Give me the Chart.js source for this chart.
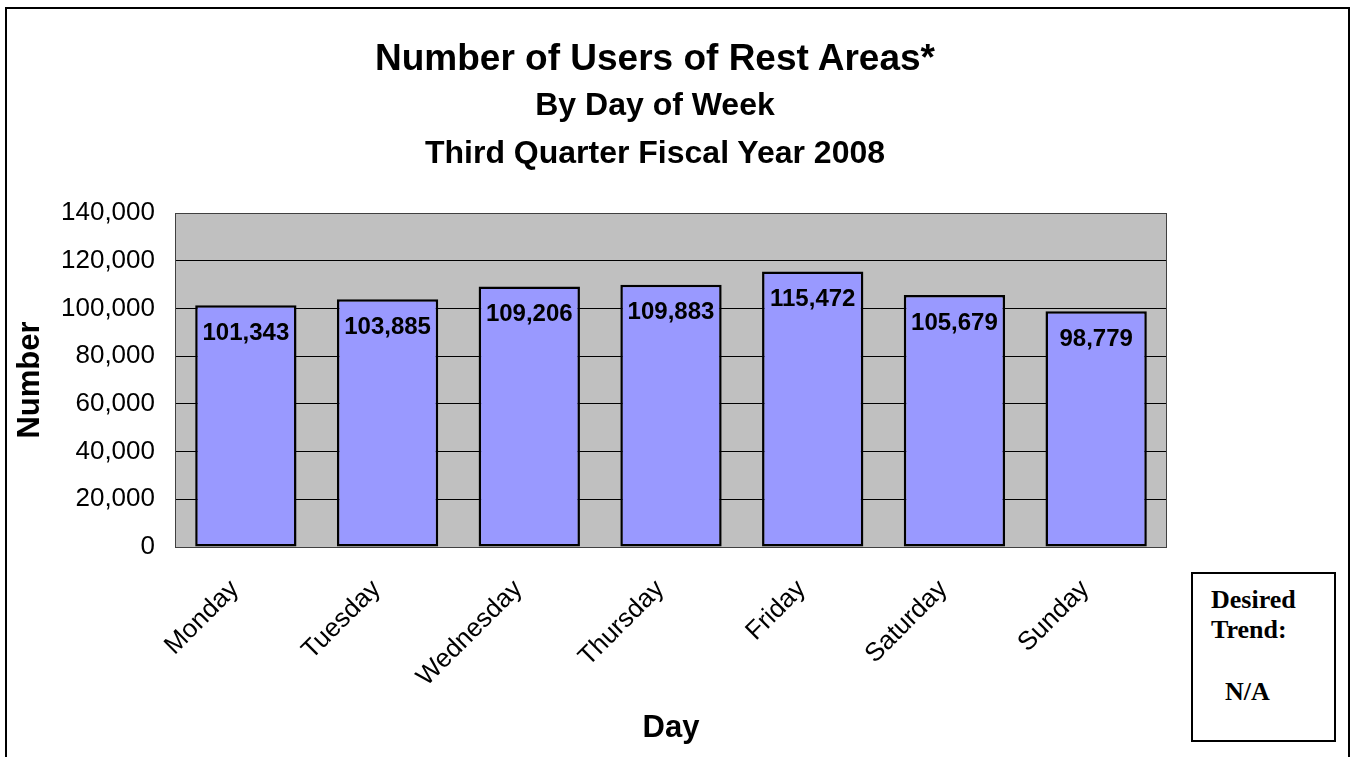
<!DOCTYPE html>
<html>
<head>
<meta charset="utf-8">
<script src="https://cdn.jsdelivr.net/npm/chart.js@4"></script>
<style>
  html, body { margin: 0; padding: 0; width: 1354px; height: 757px; overflow: hidden; background: #fff; }
  #frame { position: absolute; left: 5px; top: 7px; width: 1345px; height: 800px; border: 2px solid #000; box-sizing: border-box; }
  #wrap { position: absolute; left: 0; top: 0; width: 1354px; height: 757px; }
  .t { position: absolute; font-family: "Liberation Sans", Arial, sans-serif; font-weight: bold; color: #000; white-space: nowrap; text-align: center; width: 900px; left: 205px; }
  #trend { position: absolute; left: 1191px; top: 572px; width: 145px; height: 170px; border: 2px solid #000; box-sizing: border-box; background: #fff; }
  .tr { position: absolute; font-family: "Liberation Serif", "Times New Roman", serif; font-weight: bold; font-size: 26px; line-height: 26px; color: #000; white-space: nowrap; }
</style>
</head>
<body>
<div id="frame"></div>
<div id="wrap"><canvas id="c" width="1354" height="757"></canvas></div>
<div class="t" style="font-size:37px; line-height:37px; top:39px;">Number of Users of Rest Areas*</div>
<div class="t" style="font-size:32px; line-height:32px; top:88px;">By Day of Week</div>
<div class="t" style="font-size:32px; line-height:32px; top:136px;">Third Quarter Fiscal Year 2008</div>
<div id="trend">
  <div class="tr" style="left:18px; top:13px;">Desired</div>
  <div class="tr" style="left:18px; top:43px;">Trend:</div>
  <div class="tr" style="left:32px; top:105px;">N/A</div>
</div>
<script>
const categories = ["Monday", "Tuesday", "Wednesday", "Thursday", "Friday", "Saturday", "Sunday"];
const users = [101343, 103885, 109206, 109883, 115472, 105679, 98779];
const yTicks = [0, 20000, 40000, 60000, 80000, 100000, 120000, 140000];
const yAxisTitle = "Number";
const xAxisTitle = "Day";

const fmt = v => v.toLocaleString('en-US');

const plotBg = {
  id: 'plotBg',
  beforeDraw(chart) {
    const {ctx, chartArea: a} = chart;
    ctx.save();
    ctx.fillStyle = '#C0C0C0';
    ctx.fillRect(a.left, a.top, a.right - a.left, a.bottom - a.top);
    ctx.restore();
  },
  beforeDatasetsDraw(chart) {
    const {ctx, chartArea: a} = chart;
    ctx.save();
    ctx.strokeStyle = '#404040';
    ctx.lineWidth = 1;
    ctx.strokeRect(a.left + 0.5, a.top + 0.5, a.right - a.left - 1, a.bottom - a.top);
    ctx.restore();
  }
};

const valueLabels = {
  id: 'valueLabels',
  afterDatasetsDraw(chart) {
    const {ctx} = chart;
    const meta = chart.getDatasetMeta(0);
    ctx.save();
    ctx.font = 'bold 24px "Liberation Sans", Arial, sans-serif';
    ctx.fillStyle = '#000';
    ctx.textAlign = 'center';
    ctx.textBaseline = 'middle';
    meta.data.forEach((bar, i) => {
      ctx.fillText(fmt(users[i]), bar.x, bar.y + 28);
    });
    ctx.restore();
  }
};

new Chart(document.getElementById('c'), {
  type: 'bar',
  data: {
    labels: categories,
    datasets: [{
      data: users,
      backgroundColor: '#9999FF',
      borderColor: '#000',
      borderWidth: 2.5,
      borderSkipped: false,
      barPercentage: 0.715,
      categoryPercentage: 1
    }]
  },
  options: {
    responsive: false,
    animation: false,
    devicePixelRatio: 1,
    layout: { padding: { left: 0, right: 187, top: 213, bottom: 0 } },
    plugins: { legend: { display: false }, tooltip: { enabled: false }, title: { display: false } },
    scales: {
      x: {
        grid: { display: false, drawTicks: false },
        border: { display: false },
        ticks: {
          minRotation: 45, maxRotation: 45, autoSkip: false,
          padding: 27,
          labelOffset: -11,
          color: '#000',
          font: { family: '"Liberation Sans", Arial, sans-serif', size: 26 }
        },
        title: {
          display: true, text: xAxisTitle, color: '#000',
          font: { family: '"Liberation Sans", Arial, sans-serif', size: 31, weight: 'bold' },
          padding: { top: 0, bottom: 10 }
        },
        afterFit(scale) { scale.height = 210; }
      },
      y: {
        min: 0, max: 140000,
        afterBuildTicks(scale) { scale.ticks = yTicks.map(v => ({ value: v })); },
        grid: { color: '#000', lineWidth: 1, drawTicks: false },
        border: { display: false },
        ticks: {
          padding: 20,
          color: '#000',
          callback: v => fmt(v),
          font: { family: '"Liberation Sans", Arial, sans-serif', size: 26 }
        },
        title: {
          display: true, text: yAxisTitle, color: '#000',
          font: { family: '"Liberation Sans", Arial, sans-serif', size: 31, weight: 'bold' },
          padding: { top: 12, bottom: 0 }
        },
        afterFit(scale) { scale.width = 175; }
      }
    }
  },
  plugins: [plotBg, valueLabels]
});
</script>
</body>
</html>
